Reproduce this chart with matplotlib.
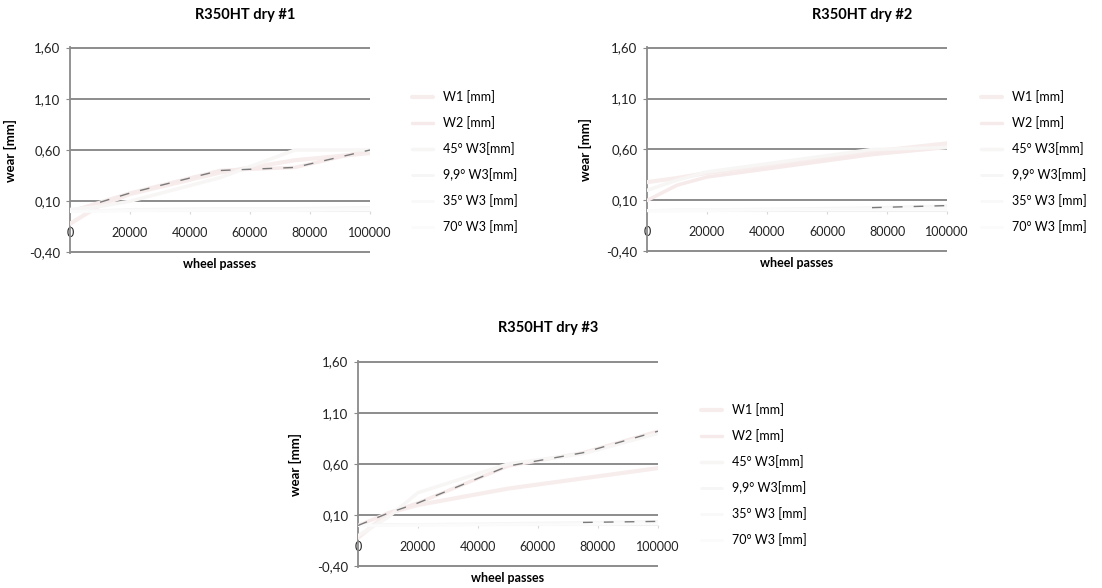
import matplotlib
matplotlib.use("Agg")
import matplotlib.pyplot as plt
from matplotlib.ticker import FixedLocator, FixedFormatter

plt.rcParams['font.family'] = ['Lato', 'DejaVu Sans']

# measurement points (wheel passes)
passes = [0, 10000, 20000, 50000, 75000, 100000]

series_names = ["W1 [mm]", "W2 [mm]", "45° W3[mm]", "9,9° W3[mm]", "35° W3 [mm]", "70° W3 [mm]"]

y_ticks = [-0.40, 0.10, 0.60, 1.10, 1.60]
y_tick_labels = ["-0,40", "0,10", "0,60", "1,10", "1,60"]
x_ticks = [0, 20000, 40000, 60000, 80000, 100000]
x_tick_labels = ["0", "20000", "40000", "60000", "80000", "100000"]

titles = ["R350HT dry #1", "R350HT dry #2", "R350HT dry #3"]

# dry #1
dry1_w1 = [-0.12, 0.06, 0.17, 0.38, 0.50, 0.57]
dry1_w2 = [0.00, 0.09, 0.18, 0.40, 0.43, 0.60]
dry1_w3_45 = [0.02, 0.05, 0.10, 0.33, 0.60, 0.60]
dry1_w3_99 = [0.00, 0.01, 0.02, 0.03, 0.03, 0.04]
dry1_w3_35 = [0.00, 0.01, 0.01, 0.02, 0.02, 0.03]
dry1_w3_70 = [0.00, 0.00, 0.01, 0.01, 0.01, 0.02]

# dry #2
dry2_w1 = [0.28, 0.32, 0.37, 0.48, 0.58, 0.66]
dry2_w2 = [0.10, 0.25, 0.33, 0.45, 0.55, 0.62]
dry2_w3_45 = [0.20, 0.30, 0.38, 0.50, 0.60, 0.62]
dry2_w3_99 = [0.00, 0.01, 0.01, 0.02, 0.03, 0.05]
dry2_w3_35 = [0.00, 0.00, 0.01, 0.01, 0.02, 0.02]
dry2_w3_70 = [0.00, 0.00, 0.00, 0.01, 0.01, 0.01]

# dry #3
dry3_w1 = [-0.12, 0.12, 0.20, 0.36, 0.46, 0.56]
dry3_w2 = [0.00, 0.12, 0.22, 0.58, 0.71, 0.92]
dry3_w3_45 = [-0.10, 0.08, 0.32, 0.60, 0.70, 0.90]
dry3_w3_99 = [0.00, 0.01, 0.01, 0.02, 0.03, 0.04]
dry3_w3_35 = [0.00, 0.00, 0.01, 0.01, 0.02, 0.03]
dry3_w3_70 = [0.00, 0.00, 0.00, 0.01, 0.01, 0.02]

charts = [
    [dry1_w1, dry1_w2, dry1_w3_45, dry1_w3_99, dry1_w3_35, dry1_w3_70],
    [dry2_w1, dry2_w2, dry2_w3_45, dry2_w3_99, dry2_w3_35, dry2_w3_70],
    [dry3_w1, dry3_w2, dry3_w3_45, dry3_w3_99, dry3_w3_35, dry3_w3_70],
]

# washed-out series colours
line_colors = ["#f8eded", "#f6eaea", "#f8f5f5", "#f6f6f6", "#f9f9f9", "#fbfbfb"]
line_widths = [3.0, 2.5, 2.5, 2.0, 2.0, 2.0]
# darker dashed fragments still showing: (series index, first point index), per chart
dashed_overlay = [[(1, 1)], [(3, 4)], [(1, 0), (3, 4)]]

W, H = 1102, 588
fig = plt.figure(figsize=(W / 100, H / 100), dpi=100)

# pixel boxes: left, right, top, bottom
boxes = [(70, 370, 47, 253), (647, 947, 47, 252), (358, 658, 361, 567)]
title_pos = [(245, 15), (862, 15), (548, 328)]
legend_pos = [(412, 90), (981, 90), (701, 403)]
ylabel_x = [17, 592, 302]

grid_color = "#8c8c8c"

for i, (l, r, t, b) in enumerate(boxes):
    ax = fig.add_axes([l / W, 1 - b / H, (r - l) / W, (b - t) / H])
    ax.set_xlim(0, 100000)
    ax.set_ylim(-0.405, 1.605)
    for s in ("top", "right"):
        ax.spines[s].set_visible(False)
    ax.spines["bottom"].set_position(("data", 0))
    ax.spines["bottom"].set_color("#f0f0f0")
    ax.spines["left"].set_color("#8a8a8a")
    ax.spines["left"].set_linewidth(1.3)

    ax.yaxis.set_major_locator(FixedLocator(y_ticks))
    ax.yaxis.set_major_formatter(FixedFormatter(y_tick_labels))
    ax.xaxis.set_major_locator(FixedLocator(x_ticks))
    ax.xaxis.set_major_formatter(FixedFormatter(x_tick_labels))
    ax.tick_params(axis="y", length=3, color="#8a8a8a", pad=4, labelsize=9.5, labelcolor="#222222")
    ax.tick_params(axis="x", length=2, color="#d8d8d8", pad=9, labelsize=9, labelcolor="#222222")
    ax.grid(axis="y", color=grid_color, linewidth=1.4)
    ax.set_axisbelow(True)

    handles = []
    for k, ys in enumerate(charts[i]):
        h, = ax.plot(passes, ys, color=line_colors[k], linewidth=line_widths[k],
                     solid_capstyle="round", zorder=3)
        handles.append(h)
    for k, start in dashed_overlay[i]:
        ax.plot(passes[start:], charts[i][k][start:], color="#7a7a7a", linewidth=1.0,
                linestyle=(0, (7, 8)), zorder=4)

    ax.set_ylabel("wear [mm]", fontsize=9.5, fontweight="bold")
    ax.yaxis.set_label_coords((ylabel_x[i] - l) / (r - l), 0.5)
    ax.set_xlabel("wheel passes", fontsize=9, fontweight="bold")
    ax.xaxis.set_label_coords(0.5, -0.025)

    tx, ty = title_pos[i]
    fig.text(tx / W, 1 - ty / H, titles[i], ha="center", va="center",
             fontsize=10.5, fontweight="bold")

    lx, ly = legend_pos[i]
    ax.legend(handles, series_names, loc="upper left",
              bbox_to_anchor=(lx / W, 1 - ly / H), bbox_transform=fig.transFigure,
              frameon=False, fontsize=9, handlelength=1.7, handletextpad=0.8,
              labelspacing=1.05, borderpad=0, borderaxespad=0)

fig.savefig("out.png", dpi=100, facecolor="white")
